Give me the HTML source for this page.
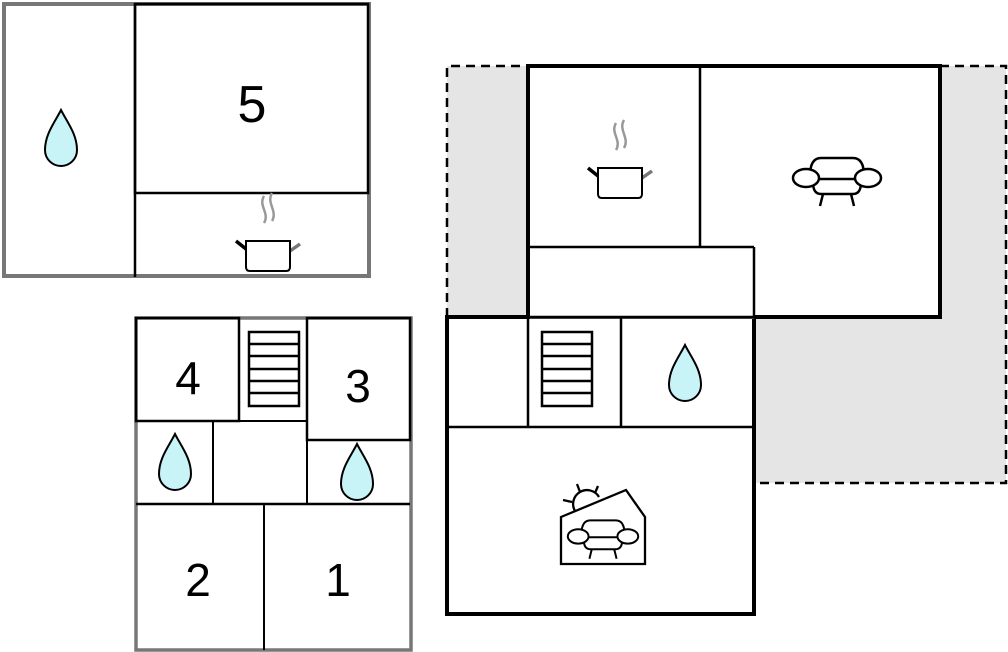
<!DOCTYPE html>
<html><head><meta charset="utf-8"><style>
html,body{margin:0;padding:0;background:#fff;width:1008px;height:652px;overflow:hidden}
svg{display:block}
text{font-family:"Liberation Sans",sans-serif;fill:#000}
</style></head><body>
<svg width="1008" height="652" viewBox="0 0 1008 652" xmlns="http://www.w3.org/2000/svg">
<defs>
<g id="drop"><path d="M0,-28 C-6,-16 -16,-4 -16,12 A16,16 0 0 0 16,12 C16,-4 6,-16 0,-28Z" fill="#c8f4f8" stroke="#000" stroke-width="2"/></g>
<g id="sofa" fill="#fff" stroke="#000" stroke-width="2.5">
<path d="M-27,-4 C-27,-18 -22,-22 -16,-22 L16,-22 C22,-22 27,-18 27,-4"/>
<path d="M-24,2 C-24,12 -20,14 -16,14 L16,14 C20,14 24,12 24,2"/>
<line x1="-20" y1="-1" x2="20" y2="-1"/>
<line x1="-14" y1="14" x2="-17" y2="26"/><line x1="14" y1="14" x2="17" y2="26"/>
<ellipse cx="-31" cy="-2" rx="13" ry="9"/><ellipse cx="31" cy="-2" rx="13" ry="9"/>
</g>
<g id="kettle">
<path d="M-4,-45 C-10,-35 2,-28 -4,-18 M4,-48 C-2,-38 10,-30 4,-20" fill="none" stroke="#999" stroke-width="2.5"/>
<line x1="-22" y1="8" x2="-32" y2="0" stroke="#000" stroke-width="3.5"/>
<line x1="22" y1="10" x2="32" y2="3" stroke="#777" stroke-width="3.5"/>
<path d="M-22,0 L22,0 L22,26 Q22,30 18,30 L-18,30 Q-22,30 -22,26Z" fill="#fff" stroke="#000" stroke-width="2"/>
</g>
<g id="stairs" fill="none" stroke="#000" stroke-width="2.5">
<rect x="0" y="0" width="50" height="74"/>
<line x1="0" y1="12" x2="50" y2="12"/><line x1="0" y1="24" x2="50" y2="24"/><line x1="0" y1="37" x2="50" y2="37"/><line x1="0" y1="49" x2="50" y2="49"/><line x1="0" y1="61" x2="50" y2="61"/>
</g>
</defs>

<rect x="4" y="4" width="365" height="272" fill="#fff" stroke="#777" stroke-width="4"/>
<rect x="135" y="4" width="233" height="189" fill="none" stroke="#000" stroke-width="2.5"/>
<line x1="135" y1="4" x2="135" y2="277" stroke="#000" stroke-width="2.5"/>
<use href="#drop" x="61" y="138"/>
<text x="252" y="122" font-size="52" text-anchor="middle">5</text>
<use href="#kettle" x="268" y="241"/>

<rect x="136" y="318" width="275" height="332" fill="#fff" stroke="#777" stroke-width="3.5"/>
<rect x="136" y="318" width="103" height="103" fill="none" stroke="#000" stroke-width="2.5"/>
<rect x="307" y="318" width="103" height="122" fill="none" stroke="#000" stroke-width="2.5"/>
<line x1="136" y1="421" x2="307" y2="421" stroke="#000" stroke-width="2"/>
<line x1="213" y1="421" x2="213" y2="504" stroke="#000" stroke-width="2"/>
<line x1="307" y1="421" x2="307" y2="504" stroke="#000" stroke-width="2"/>
<line x1="136" y1="504" x2="410" y2="504" stroke="#000" stroke-width="2.5"/>
<line x1="264" y1="504" x2="264" y2="650" stroke="#000" stroke-width="2"/>
<use href="#stairs" x="249" y="332"/>
<text x="188" y="394" font-size="46" text-anchor="middle">4</text>
<text x="358" y="402" font-size="46" text-anchor="middle">3</text>
<use href="#drop" x="175" y="462"/>
<use href="#drop" x="357" y="472"/>
<text x="198" y="596" font-size="46" text-anchor="middle">2</text>
<text x="338" y="596" font-size="46" text-anchor="middle">1</text>

<path d="M447,66 L528,66 L528,317 L447,317Z" fill="#e5e5e5"/>
<path d="M940,66 L1006,66 L1006,483 L754,483 L754,317 L940,317Z" fill="#e5e5e5"/>
<g fill="none" stroke="#000" stroke-width="2.5" stroke-dasharray="9,6">
<path d="M447,317 L447,66 L528,66"/>
<path d="M940,66 L1006,66 L1006,483 L754,483"/>
</g>
<rect x="528" y="66" width="412" height="251" fill="#fff" stroke="#000" stroke-width="4"/>
<rect x="447" y="317" width="307" height="297" fill="#fff" stroke="#000" stroke-width="4"/>
<line x1="528" y1="316" x2="754" y2="316" stroke="#fff" stroke-width="5"/>
<g stroke="#000" stroke-width="2.5" fill="none">
<line x1="528" y1="317" x2="754" y2="317"/>
<line x1="700" y1="66" x2="700" y2="247"/>
<line x1="528" y1="247" x2="754" y2="247"/>
<line x1="754" y1="247" x2="754" y2="317"/>
<line x1="528" y1="317" x2="528" y2="427"/>
<line x1="621" y1="317" x2="621" y2="427"/>
<line x1="447" y1="427" x2="754" y2="427"/>
</g>
<line x1="528" y1="66" x2="528" y2="319" stroke="#000" stroke-width="4"/>
<use href="#stairs" x="542" y="332"/>
<use href="#drop" x="685" y="373"/>
<use href="#kettle" x="620" y="168"/>
<use href="#sofa" x="837" y="180"/>
<g stroke="#000" stroke-width="2.3" fill="none">
<path d="M575,511 A13,13 0 0 1 599,497"/>
<line x1="563" y1="500" x2="572" y2="502"/><line x1="577" y1="484" x2="580" y2="492"/><line x1="598" y1="486" x2="595" y2="493"/>
<path d="M561,517 L626,490 L645,517 L645,564 L561,564Z" fill="#fff"/>
</g>
<use href="#sofa" transform="translate(603,538) scale(0.8)"/>
</svg>
</body></html>
